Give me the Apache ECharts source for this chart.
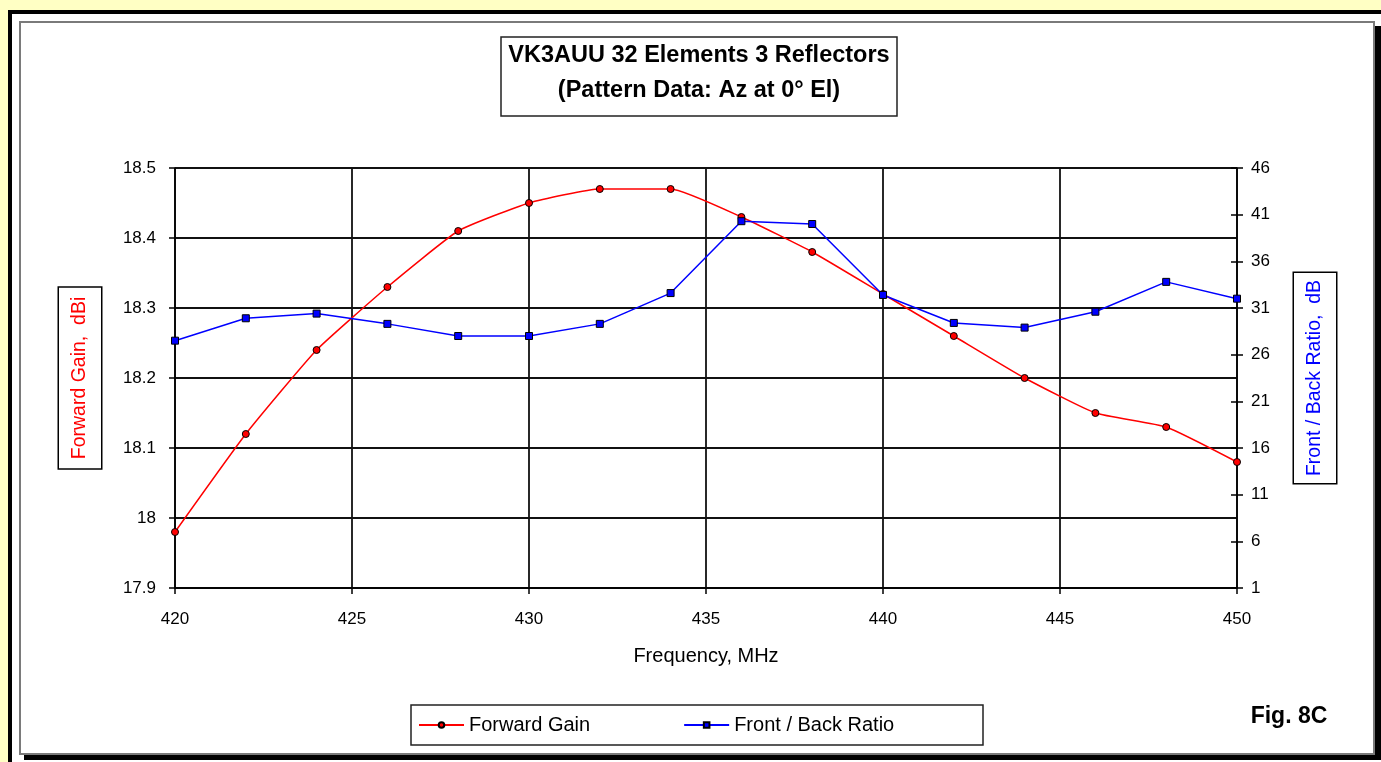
<!DOCTYPE html>
<html>
<head>
<meta charset="utf-8">
<script src="https://cdn.jsdelivr.net/npm/echarts@6/dist/echarts.min.js"></script>
<style>
html,body{margin:0;padding:0;background:#FFFFC4;}
#c{width:1381px;height:762px;}
</style>
</head>
<body>
<div id="c"></div>
<script>
const frequencies = [420, 422, 424, 426, 428, 430, 432, 434, 436, 438, 440, 442, 444, 446, 448, 450];
const forwardGain = [17.98, 18.12, 18.24, 18.33, 18.41, 18.45, 18.47, 18.47, 18.43, 18.38, 18.32, 18.26, 18.20, 18.15, 18.13, 18.08];
const frontBackRatio = [27.5, 29.9, 30.4, 29.3, 28.0, 28.0, 29.3, 32.6, 40.3, 40.0, 32.4, 29.4, 28.9, 30.6, 33.8, 32.0];
const ratioTicks = [1, 6, 11, 16, 21, 26, 31, 36, 41, 46];

const FONT = '"Liberation Sans", Arial, Helvetica, sans-serif';
const gainData = frequencies.map((f, i) => [f, forwardGain[i]]);
const ratioData = frequencies.map((f, i) => [f, frontBackRatio[i]]);

const chart = echarts.init(document.getElementById('c'), null, {renderer: 'canvas'});
const option = {
  backgroundColor: '#FFFFC4',
  animation: false,
  textStyle: {fontFamily: FONT},
  graphic: [
    {type: 'rect', z: -10, silent: true, shape: {x: 8, y: 10, width: 1373, height: 752}, style: {fill: '#000'}},
    {type: 'rect', z: -10, silent: true, shape: {x: 12, y: 14, width: 1369, height: 748}, style: {fill: '#fff'}},
    {type: 'rect', z: -10, silent: true, shape: {x: 24, y: 26, width: 1357, height: 734}, style: {fill: '#000'}},
    {type: 'rect', z: -10, silent: true, shape: {x: 20, y: 22, width: 1354, height: 732}, style: {fill: '#fff', stroke: '#7a7a7a', lineWidth: 2}},
    {type: 'rect', z: -5, silent: true, shape: {x: 501, y: 37, width: 396, height: 79}, style: {fill: '#fff', stroke: '#222', lineWidth: 1.5}},
    {type: 'text', z: 5, silent: true, x: 699, y: 56, style: {text: 'VK3AUU 32 Elements 3 Reflectors', font: 'bold 23.5px ' + FONT, fill: '#000', textAlign: 'center', textVerticalAlign: 'middle'}},
    {type: 'text', z: 5, silent: true, x: 699, y: 91, style: {text: '(Pattern Data: Az at 0° El)', font: 'bold 23.5px ' + FONT, fill: '#000', textAlign: 'center', textVerticalAlign: 'middle'}},
    {type: 'rect', z: -5, silent: true, shape: {x: 411, y: 705, width: 572, height: 40}, style: {fill: '#fff', stroke: '#222', lineWidth: 1.5}},
    {type: 'text', z: 5, silent: true, x: 1289, y: 717, style: {text: 'Fig. 8C', font: 'bold 23px ' + FONT, fill: '#000', textAlign: 'center', textVerticalAlign: 'middle'}}
  ],
  grid: {left: 175, right: 144, top: 168, bottom: 174, containLabel: false},
  legend: {
    left: 418, top: 715, padding: 0,
    itemWidth: 45, itemHeight: 7, itemGap: 93, itemTextGap: 5,
    textStyle: {fontSize: 20, color: '#000', fontFamily: FONT},
    data: ['Forward Gain', 'Front / Back Ratio']
  },
  xAxis: {
    type: 'value', min: 420, max: 450, interval: 5,
    name: 'Frequency, MHz', nameLocation: 'middle', nameGap: 58,
    nameTextStyle: {fontSize: 20, color: '#000', fontFamily: FONT},
    axisLine: {show: true, lineStyle: {color: '#000', width: 1.5}},
    axisTick: {show: true, inside: false, length: 6, lineStyle: {color: '#000', width: 1.5}},
    axisLabel: {fontSize: 17, color: '#000', margin: 23, fontFamily: FONT},
    splitLine: {show: true, lineStyle: {color: '#111', width: 1.8}}
  },
  yAxis: [
    {
      type: 'value', position: 'left', min: 17.9, max: 18.5, interval: 0.1,
      name: 'Forward Gain,  dBi', nameLocation: 'middle', nameRotate: 90, nameGap: 74,
      nameTextStyle: {fontSize: 19.5, color: '#ff0000', fontFamily: FONT, borderColor: '#000', borderWidth: 1.5, padding: [11, 9, 11, 9], backgroundColor: '#fff'},
      axisLine: {show: true, lineStyle: {color: '#000', width: 1.5}},
      axisTick: {show: true, inside: false, length: 6, lineStyle: {color: '#000', width: 1.5}},
      axisLabel: {fontSize: 17, color: '#000', margin: 19, fontFamily: FONT},
      splitLine: {show: true, lineStyle: {color: '#111', width: 1.8}}
    },
    {
      type: 'value', position: 'right', min: 1, max: 46,
      name: 'Front / Back Ratio,  dB', nameLocation: 'middle', nameRotate: 90, nameGap: 57,
      nameTextStyle: {fontSize: 19.5, color: '#0000ff', fontFamily: FONT, borderColor: '#000', borderWidth: 1.5, padding: [11, 7, 11, 7], backgroundColor: '#fff'},
      axisLine: {show: true, lineStyle: {color: '#000', width: 1.5}},
      axisTick: {show: true, inside: false, length: 6, customValues: ratioTicks, lineStyle: {color: '#000', width: 1.5}},
      axisLabel: {fontSize: 17, color: '#000', margin: 14, customValues: ratioTicks, fontFamily: FONT},
      splitLine: {show: false}
    },
    {
      type: 'value', position: 'right', min: 1, max: 46,
      axisLine: {show: false},
      axisTick: {show: true, inside: true, length: 6, customValues: ratioTicks, lineStyle: {color: '#000', width: 1.5}},
      axisLabel: {show: false, customValues: ratioTicks},
      splitLine: {show: false}
    }
  ],
  series: [
    {
      name: 'Forward Gain', type: 'line', xAxisIndex: 0, yAxisIndex: 0,
      data: gainData, smooth: 0.15, z: 3,
      symbol: 'circle', symbolSize: 7,
      lineStyle: {color: '#ff0000', width: 1.5},
      itemStyle: {color: '#ff0000', borderColor: '#000', borderWidth: 1}
    },
    {
      name: 'Front / Back Ratio', type: 'line', xAxisIndex: 0, yAxisIndex: 1,
      data: ratioData, smooth: false, z: 4,
      symbol: 'rect', symbolSize: 7,
      lineStyle: {color: '#0000ff', width: 1.5},
      itemStyle: {color: '#0000ff', borderColor: '#000', borderWidth: 1}
    }
  ]
};
chart.setOption(option);
</script>
</body>
</html>
